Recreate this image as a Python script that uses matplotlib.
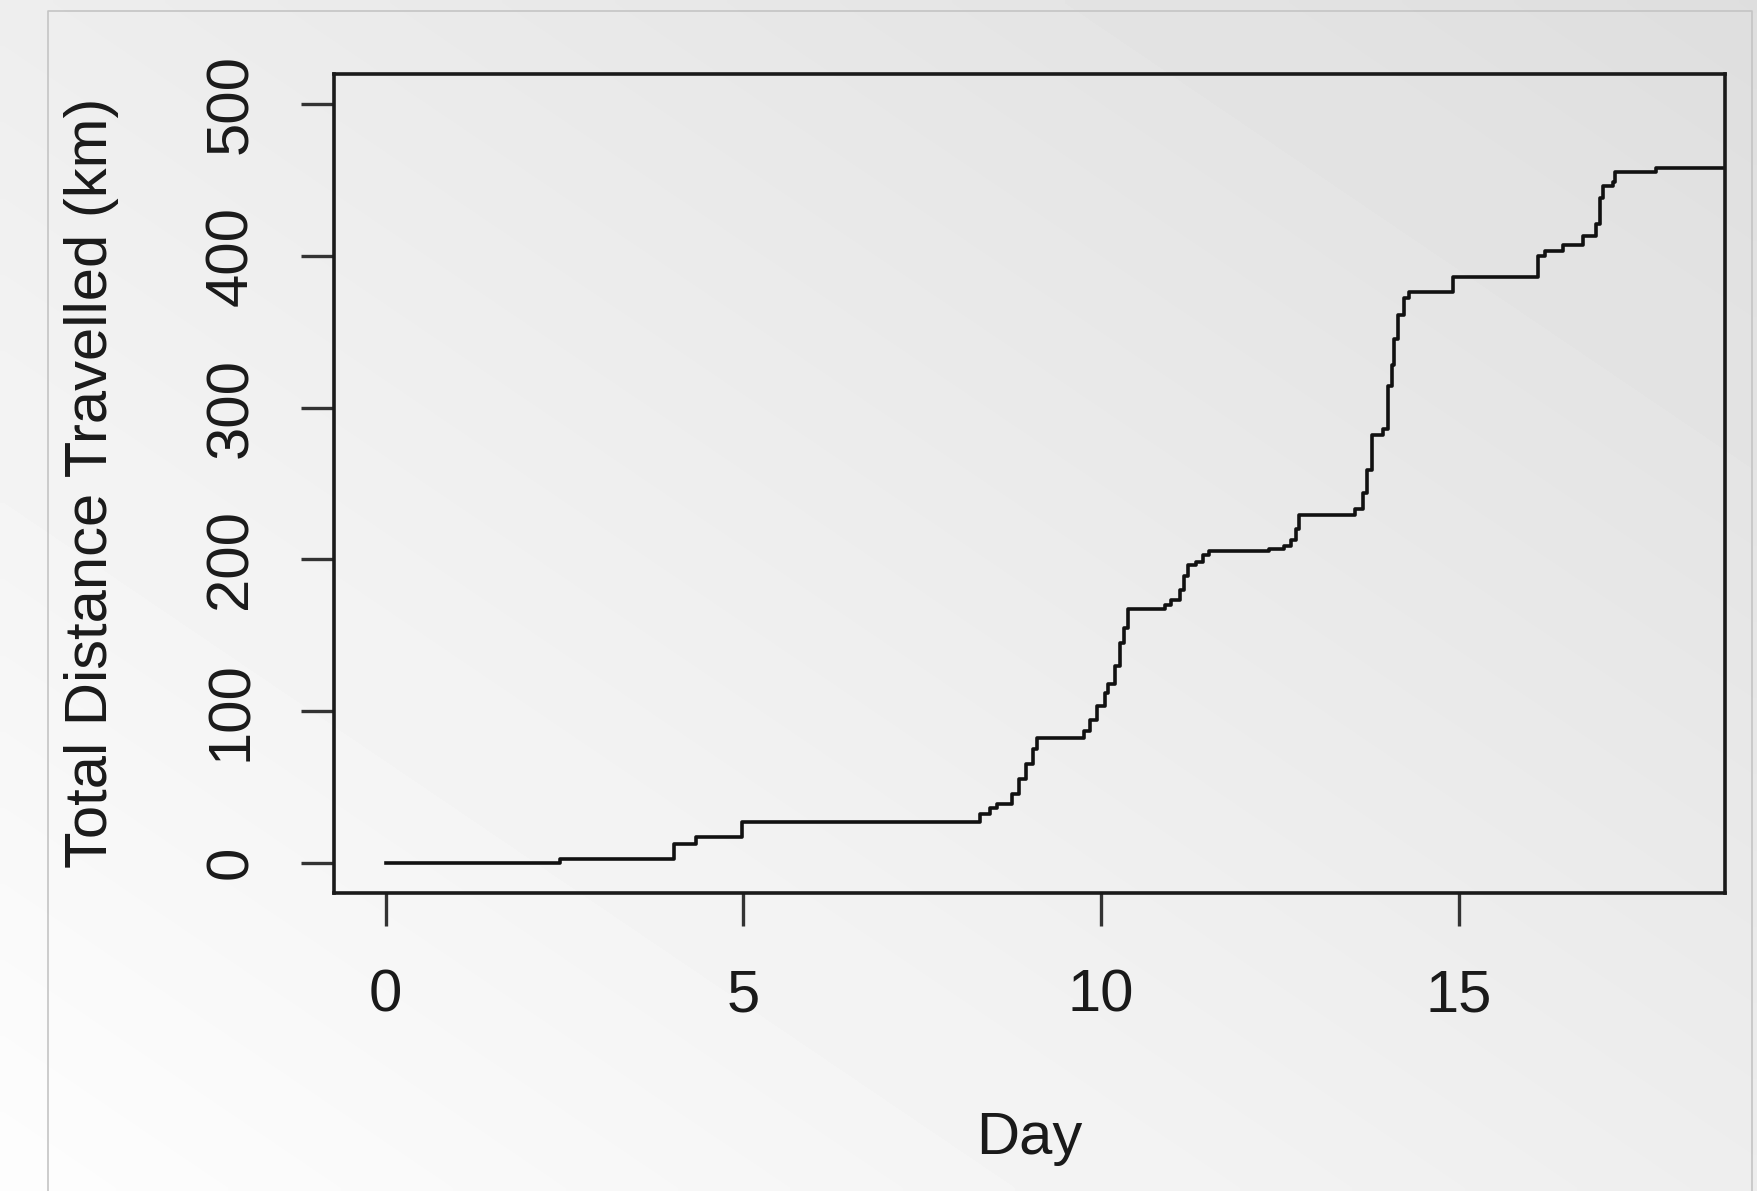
import matplotlib
matplotlib.use('Agg')
import matplotlib.pyplot as plt
import numpy as np
from matplotlib.lines import Line2D

# cumulative distance (step values start at each day)
day = [0.0, 2.44, 4.03, 4.34, 4.98, 8.31, 8.45, 8.55, 8.75, 8.85, 8.95, 9.05, 9.1,
       9.76, 9.85, 9.95, 10.05, 10.1, 10.2, 10.26, 10.32, 10.37, 10.9, 10.98, 11.1,
       11.16, 11.22, 11.33, 11.42, 11.51, 12.35, 12.56, 12.66, 12.72, 12.77, 13.55,
       13.66, 13.72, 13.78, 13.94, 14.01, 14.06, 14.1, 14.15, 14.24, 14.31, 14.92,
       16.1, 16.2, 16.46, 16.74, 16.92, 16.97, 17.02, 17.16, 17.18, 17.76, 18.8]
km = [0, 2.2, 12, 17, 26.5, 32, 36, 39, 45, 55, 65, 75, 82,
      87, 94, 103, 112, 118, 130, 145, 155, 167, 170, 173, 180,
      189, 196, 198, 203, 205.5, 207, 209, 213, 220, 229.5, 233,
      244, 259, 282, 286, 314, 328, 345, 361, 372, 376, 386,
      400, 403, 407, 413, 421, 438, 446, 449, 455.7, 458, 458]
xticks = [0, 5, 10, 15]
yticks = [0, 100, 200, 300, 400, 500]

W, H = 1758, 1191
plt.rcParams['font.family'] = ['Liberation Sans', 'DejaVu Sans']
txt = '#1a1a1a'
fs = 43

fig = plt.figure(figsize=(W / 100, H / 100), dpi=100)

# grey diagonal gradient backdrop (slide style)
bg = fig.add_axes([0, 0, 1, 1], zorder=-5)
u, v = np.meshgrid(np.linspace(0, 1, 200), np.linspace(1, 0, 200))
bg.imshow(253 - 31 * (u + v) / 2, cmap='gray', vmin=0, vmax=255,
          extent=[0, 1, 0, 1], aspect='auto', interpolation='bilinear')
bg.axis('off')

# thin frame around the picture
x0, x1, yt = 48 / W, 1752 / W, 1 - 11 / H
fig.add_artist(Line2D([x0, x0, x1, x1], [0, yt, yt, 0], transform=fig.transFigure,
                      color='#c4c4c4', lw=1.2))

ax = fig.add_axes([334 / W, 1 - 893 / H, (1725 - 334) / W, (893 - 74) / H])
ax.set_facecolor('none')
ax.plot(day, km, drawstyle='steps-post', color='#111111', lw=2.6)
ax.set_xlim(-0.72, 18.72)
ax.set_ylim(-20, 520)
ax.set_xticks(xticks)
ax.set_yticks(yticks)
for s in ax.spines.values():
    s.set_linewidth(2.6)
    s.set_color('#1a1a1a')
ax.tick_params(length=24, width=2.4, color='#333333', labelsize=fs,
               labelcolor=txt, pad=30)
plt.setp(ax.get_yticklabels(), rotation=90, va='center')

fig.text(92 / W, 1 - 483 / H, 'Total Distance Travelled (km)', rotation=90,
         ha='center', va='center', fontsize=fs, color=txt)
fig.text(1029 / W, 1 - 1138 / H, 'Day', ha='center', va='center',
         fontsize=fs, color=txt)

fig.savefig('out.png', dpi=100)
